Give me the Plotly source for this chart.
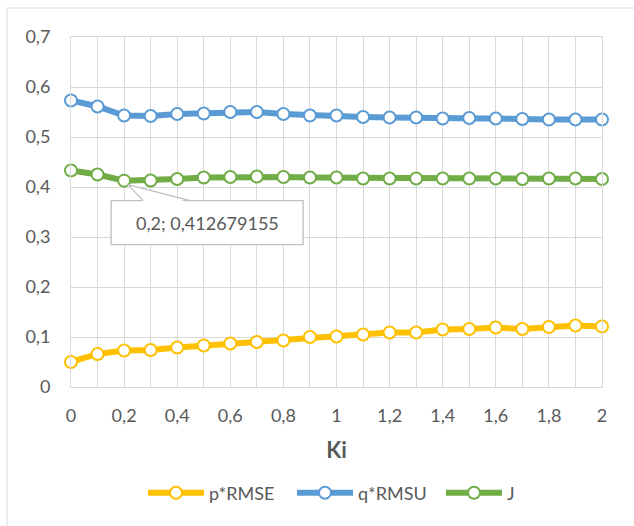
import plotly.graph_objects as go

# ---- data ----
ki = [0.0, 0.1, 0.2, 0.3, 0.4, 0.5, 0.6, 0.7, 0.8, 0.9, 1.0,
      1.1, 1.2, 1.3, 1.4, 1.5, 1.6, 1.7, 1.8, 1.9, 2.0]
p_rmse = [0.050, 0.066, 0.073, 0.074, 0.079, 0.083, 0.087, 0.090, 0.093, 0.100, 0.101,
          0.105, 0.109, 0.109, 0.115, 0.116, 0.119, 0.116, 0.120, 0.123, 0.121]
q_rmsu = [0.573, 0.561, 0.543, 0.542, 0.546, 0.547, 0.550, 0.550, 0.546, 0.543, 0.543,
          0.540, 0.539, 0.539, 0.537, 0.538, 0.537, 0.536, 0.535, 0.535, 0.535]
j_vals = [0.433, 0.425, 0.412679155, 0.413, 0.416, 0.419, 0.420, 0.421, 0.420, 0.419, 0.419,
          0.417, 0.417, 0.417, 0.417, 0.417, 0.417, 0.416, 0.417, 0.417, 0.416]
series_names = ["p*RMSE", "q*RMSU", "J"]
series_colors = ["#FFC000", "#5B9BD5", "#70AD47"]
y_ticks = [0, 0.1, 0.2, 0.3, 0.4, 0.5, 0.6, 0.7]
x_ticks = [0, 0.2, 0.4, 0.6, 0.8, 1.0, 1.2, 1.4, 1.6, 1.8, 2.0]
callout_index = 2

def comma(v):
    s = ("%g" % v) if abs(v - round(v, 1)) < 1e-12 else repr(v)
    return s.replace(".", ",")

FONT = "Lato"
TXT = "#595959"
GRID = "#D9D9D9"

fig = go.Figure()
for name, ys, col in zip(series_names, [p_rmse, q_rmsu, j_vals], series_colors):
    fig.add_trace(go.Scatter(
        x=ki, y=ys, name=name, mode="lines+markers",
        line=dict(color=col, width=6),
        marker=dict(symbol="circle", size=12, color="white",
                    line=dict(color=col, width=2)),
        cliponaxis=False,
    ))

ML, MT, W, H = 71, 37, 531, 350
fig.update_layout(
    width=634, height=526,
    margin=dict(l=ML, r=634 - ML - W, t=MT, b=526 - MT - H, autoexpand=False),
    paper_bgcolor="white", plot_bgcolor="white",
    font=dict(family=FONT, color=TXT, size=18),
    showlegend=True,
    legend=dict(orientation="h", x=(143 - ML) / W, xanchor="left",
                y=(MT + H - 493) / H, yanchor="middle",
                font=dict(size=18, color=TXT), entrywidth=78,
                entrywidthmode="pixels", itemwidth=56),
    xaxis=dict(range=[0, 2], tickmode="array", tickvals=x_ticks,
               ticktext=[comma(v) for v in x_ticks],
               showgrid=True, gridcolor=GRID, gridwidth=1,
               showline=True, linecolor=GRID, linewidth=1, mirror=True,
               zeroline=False, ticks="", ticklabelstandoff=12,
               tickfont=dict(size=18, color=TXT),
               title=dict(text="<b>Ki</b>", font=dict(size=22, color=TXT), standoff=18),
               minor=dict(dtick=0.1, showgrid=True, gridcolor=GRID, gridwidth=1)),
    yaxis=dict(range=[0, 0.7], tickmode="array", tickvals=y_ticks,
               ticktext=[comma(v) for v in y_ticks],
               showgrid=True, gridcolor=GRID, gridwidth=1,
               showline=True, linecolor=GRID, linewidth=1, mirror=True,
               zeroline=False, ticks="", ticklabelstandoff=16,
               tickfont=dict(size=18, color=TXT)),
)

# chart frame (left/top edges visible)
fig.add_shape(type="rect", xref="paper", yref="paper",
              x0=(7 - ML) / W, x1=(650 - ML) / W,
              y0=(MT + H - 540) / H, y1=(MT + H - 8) / H,
              line=dict(color=GRID, width=1), fillcolor="rgba(0,0,0,0)", layer="below")

# callout
cx, cy = ki[callout_index], j_vals[callout_index]
fig.add_shape(type="rect", xref="x", yref="y",
              xsizemode="pixel", ysizemode="pixel", xanchor=cx, yanchor=cy,
              x0=-13, x1=179, y0=-20, y1=-64,
              line=dict(color="#BFBFBF", width=1.3), fillcolor="white", layer="above")
fig.add_shape(type="path", xref="x", yref="y",
              xsizemode="pixel", ysizemode="pixel", xanchor=cx, yanchor=cy,
              path="M 4,-4 L 20,-22 L 66,-22 Z",
              line=dict(width=0), fillcolor="white", layer="above")
fig.add_shape(type="path", xref="x", yref="y",
              xsizemode="pixel", ysizemode="pixel", xanchor=cx, yanchor=cy,
              path="M 19,-20 L 4,-4 L 66,-20",
              line=dict(color="#BFBFBF", width=1.3), fillcolor="rgba(0,0,0,0)", layer="above")
fig.add_annotation(x=cx, y=cy, xref="x", yref="y", showarrow=False,
                   xshift=83, yshift=-42,
                   text=comma(cx) + "; " + comma(cy),
                   font=dict(size=18, color=TXT, family=FONT))

fig.write_html("out.html")
